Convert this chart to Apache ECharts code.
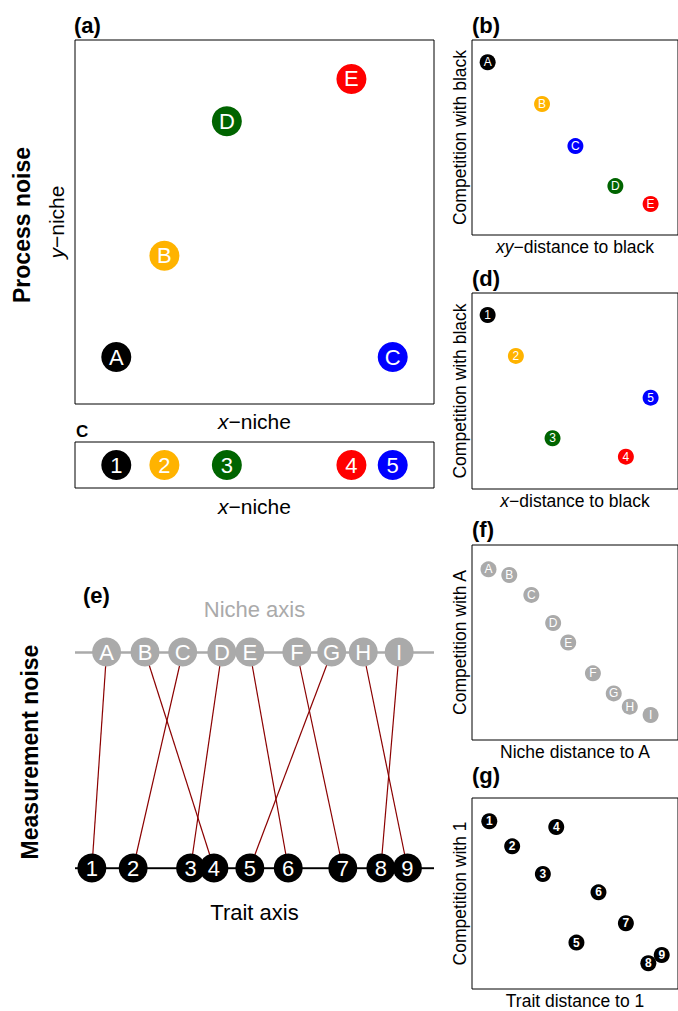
<!DOCTYPE html>
<html>
<head>
<meta charset="utf-8">
<script src="https://cdn.jsdelivr.net/npm/echarts@6/dist/echarts.min.js"></script>
<style>
html,body{margin:0;padding:0;background:#fff;}
#chart{width:678px;height:1011px;}
</style>
</head>
<body>
<div id="chart"></div>
<script>
// ---------- data ----------
// Panel (a): species in 2-D niche space
const procLabels = ['A', 'B', 'C', 'D', 'E'];
const procColors = ['#000000', '#FFB300', '#0000FF', '#006400', '#FF0000'];
const nicheX2d = [11.5, 24.9, 88.5, 42.3, 77.0];
const nicheY2d = [12.9, 40.7, 12.9, 77.7, 89.3];

// Panel (c): species on x-niche only
const xOnlyLabels = ['1', '2', '3', '4', '5'];
const xOnlyColors = ['#000000', '#FFB300', '#006400', '#FF0000', '#0000FF'];
const xOnlyX = [11.5, 24.9, 42.3, 77.0, 88.5];

// Panel (b): competition vs xy-distance
const bDist = [7.6, 34.0, 50.2, 69.6, 86.7];
const bComp = [88.6, 67.2, 45.6, 25.1, 15.9];

// Panel (d): competition vs x-distance
const dDist = [7.6, 21.3, 39.1, 74.7, 86.7];
const dComp = [88.8, 67.9, 25.9, 16.5, 46.6];

// Panel (e): niche axis vs trait axis
const nicheLabels = ['A', 'B', 'C', 'D', 'E', 'F', 'G', 'H', 'I'];
const nichePos = [8.8, 19.5, 30.0, 40.9, 48.7, 61.8, 71.5, 80.3, 90.3];
const traitLabels = ['1', '2', '3', '4', '5', '6', '7', '8', '9'];
const traitPos = [4.7, 16.2, 32.2, 38.7, 48.7, 59.4, 74.6, 85.2, 92.6];
const nicheToTrait = ['1', '4', '2', '3', '6', '7', '5', '9', '8'];

// Panel (f): competition vs niche distance to A
const fDist = [8.0, 18.1, 28.8, 39.4, 46.7, 58.7, 68.8, 76.6, 86.7];
const fComp = [87.5, 84.6, 74.4, 60.0, 50.0, 34.2, 23.9, 17.1, 12.8];

// Panel (g): competition vs trait distance to 1
const gDist = [8.4, 19.5, 34.4, 40.9, 50.7, 61.4, 74.7, 85.6, 92.1];
const gComp = [87.8, 74.7, 60.2, 84.8, 24.3, 50.6, 34.4, 13.5, 17.8];

// ---------- build ----------
const FF = 'Liberation Sans, Arial, Helvetica, sans-serif';
const GREY = '#AAAAAA';
const DARKRED = '#8B0000';

function ax(gridIndex, extra) {
  return Object.assign({
    type: 'value', gridIndex: gridIndex, min: 0, max: 100,
    axisLine: {show: false}, axisTick: {show: false},
    axisLabel: {show: false}, splitLine: {show: false}
  }, extra || {});
}
function nameStyle(size, color) {
  return {fontSize: size, fontFamily: FF, color: color || '#000',
          rich: {i: {fontStyle: 'italic', fontSize: size, fontFamily: FF, color: color || '#000'}}};
}
function pts(idx, labels, xs, ys, colors, size, font, weight) {
  return {
    type: 'scatter', xAxisIndex: idx, yAxisIndex: idx, symbolSize: size, z: 5,
    emphasis: {disabled: true}, silent: true,
    data: labels.map((l, i) => ({
      name: l, value: [xs[i], ys[i]],
      itemStyle: {color: Array.isArray(colors) ? colors[i] : colors, opacity: 1}
    })),
    label: {show: true, position: 'inside', formatter: '{b}', color: '#fff',
            fontSize: font, fontFamily: FF, fontWeight: weight || 'normal'}
  };
}
function box(left, top, width, height) {
  return {left: left, top: top, width: width, height: height, show: true,
          borderColor: '#000', borderWidth: 1, backgroundColor: 'transparent'};
}

const grids = [
  box(75, 40, 359, 364),      // 0 a
  box(75, 442, 359, 46),      // 1 c
  {left: 75, top: 652, width: 359, height: 216, show: false}, // 2 e
  box(472, 40, 215, 195),     // 3 b
  box(472, 293, 215, 196),    // 4 d
  box(472, 545, 215, 195),    // 5 f
  box(472, 798, 215, 195)     // 6 g
];

const xAxes = [
  ax(0, {name: '{i|x}\u2212niche', nameLocation: 'middle', nameGap: 7, nameTextStyle: nameStyle(21)}),
  ax(1, {name: '{i|x}\u2212niche', nameLocation: 'middle', nameGap: 8, nameTextStyle: nameStyle(21)}),
  ax(2, {name: 'Trait axis', nameLocation: 'middle', nameGap: 33, nameTextStyle: nameStyle(22)}),
  ax(3, {name: '{i|xy}\u2212distance to black', nameLocation: 'middle', nameGap: 3, nameTextStyle: nameStyle(17.5)}),
  ax(4, {name: '{i|x}\u2212distance to black', nameLocation: 'middle', nameGap: 3, nameTextStyle: nameStyle(17.5)}),
  ax(5, {name: 'Niche distance to A', nameLocation: 'middle', nameGap: 3, nameTextStyle: nameStyle(17.5)}),
  ax(6, {name: 'Trait distance to 1', nameLocation: 'middle', nameGap: 3, nameTextStyle: nameStyle(17.5)}),
  ax(2, {position: 'top', name: 'Niche axis', nameLocation: 'middle', nameGap: 32, nameTextStyle: nameStyle(22, GREY)})
];
const yAxes = [
  ax(0, {name: '{i|y}\u2212niche', nameLocation: 'middle', nameRotate: 90, nameGap: 8, nameTextStyle: nameStyle(21)}),
  ax(1),
  ax(2, {min: 0, max: 1}),
  ax(3, {name: 'Competition with black', nameLocation: 'middle', nameRotate: 90, nameGap: 3, nameTextStyle: nameStyle(17.5)}),
  ax(4, {name: 'Competition with black', nameLocation: 'middle', nameRotate: 90, nameGap: 3, nameTextStyle: nameStyle(17.5)}),
  ax(5, {name: 'Competition with A', nameLocation: 'middle', nameRotate: 90, nameGap: 3, nameTextStyle: nameStyle(17.5)}),
  ax(6, {name: 'Competition with 1', nameLocation: 'middle', nameRotate: 90, nameGap: 3, nameTextStyle: nameStyle(17.5)})
];

const linkData = nicheLabels.map((l, i) => {
  const t = traitLabels.indexOf(nicheToTrait[i]);
  return {coords: [[nichePos[i], 1], [traitPos[t], 0]]};
});

const series = [
  pts(0, procLabels, nicheX2d, nicheY2d, procColors, 30, 22),
  pts(1, xOnlyLabels, xOnlyX, xOnlyLabels.map(() => 50), xOnlyColors, 30, 22),
  // axis baselines in (e)
  {type: 'lines', coordinateSystem: 'cartesian2d', xAxisIndex: 2, yAxisIndex: 2, z: 1, silent: true,
   lineStyle: {color: GREY, width: 2.5, opacity: 1}, data: [{coords: [[0, 1], [100, 1]]}]},
  {type: 'lines', coordinateSystem: 'cartesian2d', xAxisIndex: 2, yAxisIndex: 2, z: 1, silent: true,
   lineStyle: {color: '#000', width: 2.5, opacity: 1}, data: [{coords: [[0, 0], [100, 0]]}]},
  {type: 'lines', coordinateSystem: 'cartesian2d', xAxisIndex: 2, yAxisIndex: 2, z: 2, silent: true,
   lineStyle: {color: DARKRED, width: 1.2, opacity: 1}, data: linkData},
  pts(2, nicheLabels, nichePos, nicheLabels.map(() => 1), GREY, 29, 22),
  pts(2, traitLabels, traitPos, traitLabels.map(() => 0), '#000', 29, 22),
  pts(3, procLabels, bDist, bComp, ['#000000', '#FFB300', '#0000FF', '#006400', '#FF0000'], 16, 12),
  pts(4, xOnlyLabels, dDist, dComp, xOnlyColors, 16, 12),
  pts(5, nicheLabels, fDist, fComp, GREY, 16, 12),
  pts(6, traitLabels, gDist, gComp, '#000', 16, 12, 'bold')
];

function tag(text, x, y, size) {
  return {type: 'text', x: x, y: y, silent: true,
          style: {text: text, font: 'bold ' + size + 'px ' + FF, fill: '#000',
                  align: 'left', verticalAlign: 'middle'}};
}
function vtitle(text, x, y) {
  return {type: 'text', x: x, y: y, rotation: Math.PI / 2, silent: true,
          style: {text: text, font: 'bold 23px ' + FF, fill: '#000',
                  align: 'center', verticalAlign: 'middle'}};
}

const option = {
  animation: false,
  backgroundColor: '#fff',
  grid: grids,
  xAxis: xAxes,
  yAxis: yAxes,
  series: series,
  graphic: [
    tag('(a)', 74, 25, 22),
    tag('C', 76, 431, 17),
    tag('(b)', 472, 25, 22),
    tag('(d)', 472, 278, 22),
    tag('(f)', 472, 529, 22),
    tag('(g)', 472, 775, 22),
    tag('(e)', 83, 595, 22),
    vtitle('Process noise', 22, 225),
    vtitle('Measurement noise', 30, 752)
  ]
};

const chart = echarts.init(document.getElementById('chart'), null, {renderer: 'svg', width: 678, height: 1011});
chart.setOption(option);
</script>
</body>
</html>
